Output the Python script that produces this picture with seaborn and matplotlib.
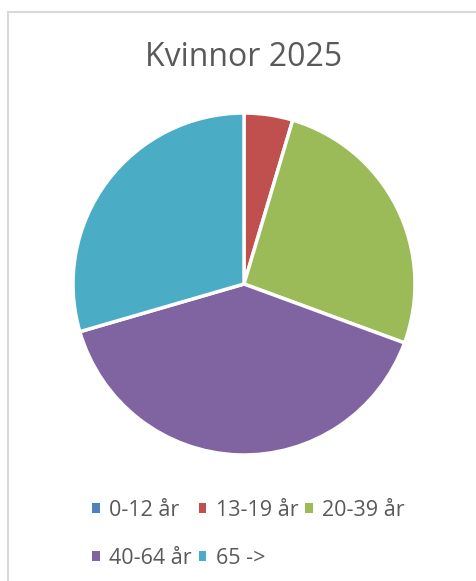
import matplotlib
matplotlib.use("Agg")
import matplotlib.pyplot as plt
import seaborn as sns
from matplotlib.patches import Rectangle

categories = ["0-12 år", "13-19 år", "20-39 år", "40-64 år", "65 ->"]
values = [0.0, 4.6, 26.0, 39.9, 29.5]
colors = ["#4F81BD", "#C0504D", "#9BBB59", "#8064A2", "#4BACC6"]
title = "Kvinnor 2025"

sns.set_theme(style="white")
plt.rcParams['font.family'] = ['Open Sans', 'DejaVu Sans']

W, H = 476, 581
fig = plt.figure(figsize=(W / 100, H / 100), dpi=100)
fig.patch.set_facecolor("white")

# chart frame
fig.patches.append(Rectangle((8 / W, -0.05), 1.2, (H - 12) / H + 0.05,
                             transform=fig.transFigure, fill=False,
                             edgecolor="#D9D9D9", linewidth=1.5))

cx, cy, r = 244, 284, 171
ax = fig.add_axes([(cx - r) / W, (H - cy - r) / H, 2 * r / W, 2 * r / H])
palette = sns.color_palette(colors)
wedges, _ = ax.pie(values, colors=palette, startangle=90, counterclock=False,
                   radius=1.0,
                   wedgeprops=dict(edgecolor="white", linewidth=2.5))
ax.set_xlim(-1, 1)
ax.set_ylim(-1, 1)
ax.set_aspect("equal")
ax.axis("off")

fig.text(cx / W, 1 - 58 / H, title, ha="center", va="center",
         fontsize=23, color="#595959")

handles = [Rectangle((0, 0), 1, 1, facecolor=c, edgecolor="none") for c in palette]
# reorder so legend reads row by row (matplotlib fills column-major)
order = [0, 3, 1, 4, 2]
leg = fig.legend([handles[i] for i in order], [categories[i] for i in order],
                 loc="upper left",
                 bbox_to_anchor=(92 / W, 1 - 500 / H), ncol=3, frameon=False,
                 fontsize=15.5, handlelength=0.36, handleheight=0.36,
                 handletextpad=0.45, columnspacing=0.3, labelspacing=1.25,
                 borderpad=0, borderaxespad=0,
                 labelcolor="#595959")

fig.savefig("out.png", dpi=100, facecolor="white")
